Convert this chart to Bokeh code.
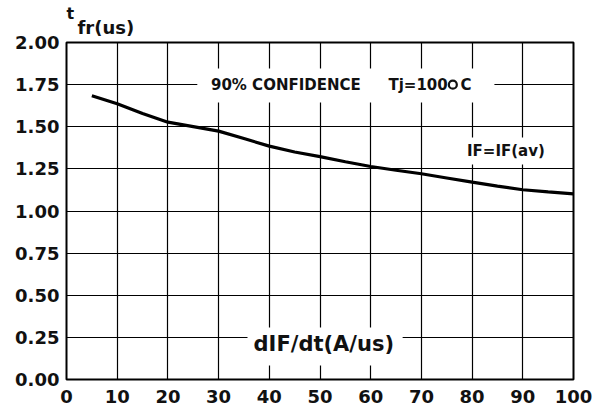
from bokeh.plotting import figure
from bokeh.models import Range1d, FixedTicker, Label, Title, CustomJSTickFormatter
from bokeh.embed import file_html
from bokeh.resources import INLINE

# data
didt = [5, 10, 15, 20, 25, 30, 35, 40, 45, 50, 55, 60, 65, 70, 75, 80, 85, 90, 95, 100]
tfr = [1.684, 1.636, 1.578, 1.527, 1.501, 1.474, 1.430, 1.385, 1.350, 1.323,
       1.292, 1.264, 1.242, 1.221, 1.196, 1.171, 1.148, 1.126, 1.113, 1.102]
x_ticks = [0, 10, 20, 30, 40, 50, 60, 70, 80, 90, 100]
y_ticks = [0.0, 0.25, 0.5, 0.75, 1.0, 1.25, 1.5, 1.75, 2.0]

FONT = "DejaVu Sans"

p = figure(width=606, height=412, output_backend="svg", toolbar_location=None,
           x_range=Range1d(0, 100), y_range=Range1d(0, 2),
           min_border_left=66, min_border_right=33, min_border_top=42, min_border_bottom=33)
p.background_fill_color = "white"
p.border_fill_color = "white"
p.outline_line_color = "black"
p.outline_line_width = 2
p.outline_line_alpha = 1

for ax in (p.xaxis, p.yaxis):
    ax.axis_line_color = None
    ax.major_tick_line_color = None
    ax.minor_tick_line_color = None
    ax.major_tick_out = 0
    ax.major_tick_in = 0
    ax.major_label_text_font = FONT
    ax.major_label_text_font_style = "bold"
    ax.major_label_text_font_size = "18px"
    ax.major_label_text_color = "#111111"

p.xaxis.ticker = FixedTicker(ticks=x_ticks)
p.yaxis.ticker = FixedTicker(ticks=y_ticks)
p.yaxis.formatter = CustomJSTickFormatter(code="return tick.toFixed(2);")
p.xaxis.major_label_standoff = 10
p.yaxis.major_label_standoff = 7

p.xgrid.ticker = FixedTicker(ticks=x_ticks)
p.ygrid.ticker = FixedTicker(ticks=y_ticks)
for g in (p.xgrid, p.ygrid):
    g.grid_line_color = "black"
    g.grid_line_width = 1.2
    g.grid_line_alpha = 1

# y-axis title above the frame
p.add_layout(Title(text="fr(us)", align="left", offset=11, text_font=FONT,
                   text_font_style="bold", text_font_size="18px", text_color="#111111",
                   standoff=10), "above")
p.add_layout(Title(text="t", align="left", offset=0, text_font=FONT,
                   text_font_style="bold", text_font_size="16px", text_color="#111111",
                   standoff=-26), "above")

# white boxes behind annotations
p.quad(left=[25.8, 73.8, 35.7], right=[84.4, 98.4, 66.3],
       bottom=[1.644, 1.276, 0.083], top=[1.846, 1.436, 0.309],
       fill_color="white", line_color=None)

p.line(didt, tfr, line_color="black", line_width=3.2)

def lab(x, y, text, size, baseline="middle"):
    p.add_layout(Label(x=x, y=y, text=text, text_font=FONT, text_font_style="bold",
                       text_font_size=size, text_color="#111111",
                       text_baseline=baseline, text_align="left"))

lab(28.5, 1.75, "90% CONFIDENCE", "15px")
lab(63.5, 1.75, "Tj=100", "15px")
p.scatter([76.2], [1.75], size=8, marker="circle", line_color="#111111",
          line_width=2.2, fill_color="white")
lab(77.7, 1.75, "C", "15px")
lab(79.0, 1.354, "IF=IF(av)", "15px")
lab(36.9, 0.212, "dIF/dt(A/us)", "21px")

open("out.html", "w").write(file_html(p, INLINE))
